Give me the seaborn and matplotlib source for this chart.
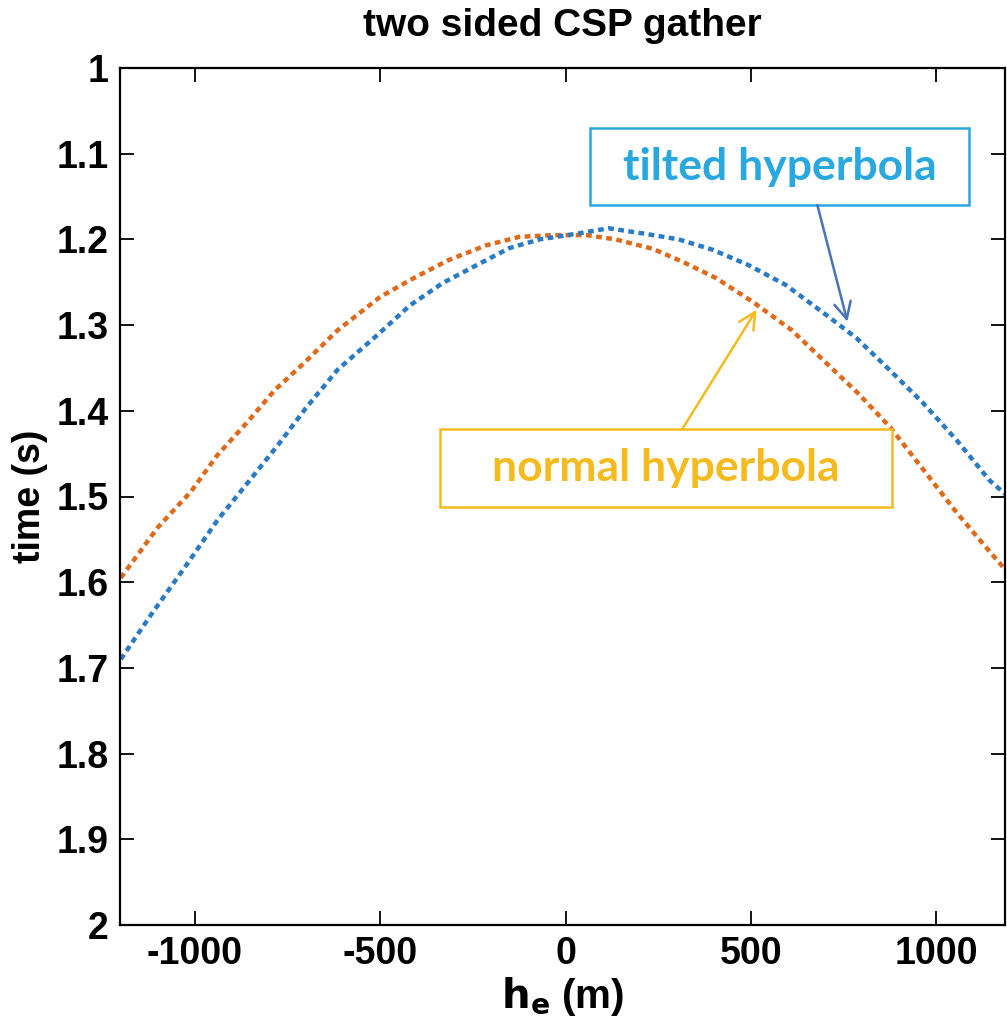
import matplotlib
matplotlib.use("Agg")
import matplotlib.pyplot as plt
import seaborn as sns
import numpy as np
import pandas as pd
from matplotlib.patches import Rectangle

# ---- data ----
h_normal = [-1200, -1100, -1010, -940, -860, -785, -705, -615, -500, -405, -315, -215,
            -125, -35, 55, 135, 235, 315, 405, 505, 610, 695, 785, 875, 960, 1055, 1145, 1185]
t_normal = [1.595, 1.536, 1.494, 1.452, 1.414, 1.376, 1.344, 1.306, 1.267, 1.244, 1.224, 1.207,
            1.197, 1.195, 1.195, 1.200, 1.211, 1.226, 1.245, 1.273, 1.306, 1.341, 1.378, 1.419,
            1.466, 1.519, 1.565, 1.585]

h_tilted = [-1200, -1120, -1023, -938, -852, -776, -701, -615, -509, -420, -332, -240, -151,
            -70, 35, 116, 208, 305, 396, 493, 593, 693, 784, 873, 962, 1054, 1143, 1185]
t_tilted = [1.690, 1.639, 1.580, 1.527, 1.481, 1.440, 1.397, 1.352, 1.312, 1.277, 1.251, 1.230,
            1.210, 1.200, 1.193, 1.187, 1.193, 1.200, 1.212, 1.230, 1.253, 1.285, 1.315, 1.352,
            1.390, 1.434, 1.481, 1.497]

x_ticks = [-1000, -500, 0, 500, 1000]
y_ticks = [1.0, 1.1, 1.2, 1.3, 1.4, 1.5, 1.6, 1.7, 1.8, 1.9, 2.0]
y_tick_labels = ["1", "1.1", "1.2", "1.3", "1.4", "1.5", "1.6", "1.7", "1.8", "1.9", "2"]

title_text = "two sided CSP gather"
x_label = r"$\mathbf{h}_{\mathbf{e}}$ (m)"
y_label = "time (s)"
label_tilted = "tilted hyperbola"
label_normal = "normal hyperbola"

# ---- style ----
sns.set_theme(style="white")
plt.rcParams["font.family"] = ["Liberation Sans Narrow", "Liberation Sans", "DejaVu Sans"]
plt.rcParams["mathtext.fontset"] = "custom"
plt.rcParams["mathtext.bf"] = "Liberation Sans Narrow:bold"
plt.rcParams["mathtext.rm"] = "Liberation Sans Narrow"
plt.rcParams["text.color"] = "black"
plt.rcParams["axes.labelcolor"] = "black"
plt.rcParams["xtick.color"] = "black"
plt.rcParams["ytick.color"] = "black"

W, H = 1007, 1027
fig = plt.figure(figsize=(W / 100, H / 100), dpi=100)
fig.patch.set_facecolor("white")
ax = fig.add_axes([120 / W, (H - 925) / H, 885 / W, 857 / H])

c_orange = "#E06A1C"
c_blue = "#2A7BC4"

df_n = pd.DataFrame({"h": h_normal, "t": t_normal})
df_t = pd.DataFrame({"h": h_tilted, "t": t_tilted})
sns.lineplot(data=df_n, x="h", y="t", ax=ax, color=c_orange, linewidth=3.2,
             linestyle=(0, (1.3, 1.0)), sort=True, estimator=None)
sns.lineplot(data=df_t, x="h", y="t", ax=ax, color=c_blue, linewidth=3.2,
             linestyle=(0, (1.3, 1.0)), sort=True, estimator=None)

ax.set_xlim(-1202, 1185)
ax.set_ylim(2.0, 1.0)
ax.set_xticks(x_ticks)
ax.set_xticklabels([str(v) for v in x_ticks])
ax.set_yticks(y_ticks)
ax.set_yticklabels(y_tick_labels)

for lab in ax.get_xticklabels() + ax.get_yticklabels():
    lab.set_fontsize(27)
    lab.set_fontweight("bold")
    lab.set_color("black")
ax.tick_params(axis="both", direction="in", length=10, width=1.3, color="black",
               labelcolor="black", top=True, right=True, bottom=True, left=True, pad=8)
for s in ax.spines.values():
    s.set_visible(True)
    s.set_color("black")
    s.set_linewidth(1.6)

ax.set_title(title_text, fontsize=28, fontweight="bold", pad=23, color="black")
ax.set_xlabel(x_label, fontsize=29, fontweight="bold", labelpad=2, color="black")
ax.set_ylabel(y_label, fontsize=27, fontweight="bold", labelpad=6, color="black")

# ---- annotation boxes ----
c_tilt_txt = "#29A8E0"
c_norm_txt = "#F5BA1E"
ann_font = ["Lato", "Open Sans", "DejaVu Sans"]

ax.add_patch(Rectangle((65, 1.070), 1024, 0.090, fill=True, facecolor="white",
                       edgecolor=c_tilt_txt, linewidth=1.8, zorder=5))
ax.text(577, 1.1155, label_tilted, color=c_tilt_txt, fontsize=32, fontweight="bold",
        family=ann_font, ha="center", va="center", zorder=6)
ax.annotate("", xy=(760, 1.296), xytext=(679, 1.160),
            arrowprops=dict(arrowstyle="->", color="#4A72B8", lw=1.8,
                            mutation_scale=30, shrinkA=0, shrinkB=0), zorder=6)

ax.add_patch(Rectangle((-340, 1.421), 1221, 0.091, fill=True, facecolor="white",
                       edgecolor=c_norm_txt, linewidth=1.8, zorder=5))
ax.text(270, 1.467, label_normal, color=c_norm_txt, fontsize=32, fontweight="bold",
        family=ann_font, ha="center", va="center", zorder=6)
ax.annotate("", xy=(515, 1.282), xytext=(315, 1.421),
            arrowprops=dict(arrowstyle="->", color=c_norm_txt, lw=1.8,
                            mutation_scale=30, shrinkA=0, shrinkB=0), zorder=6)

fig.savefig("out.png", dpi=100, facecolor="white")
